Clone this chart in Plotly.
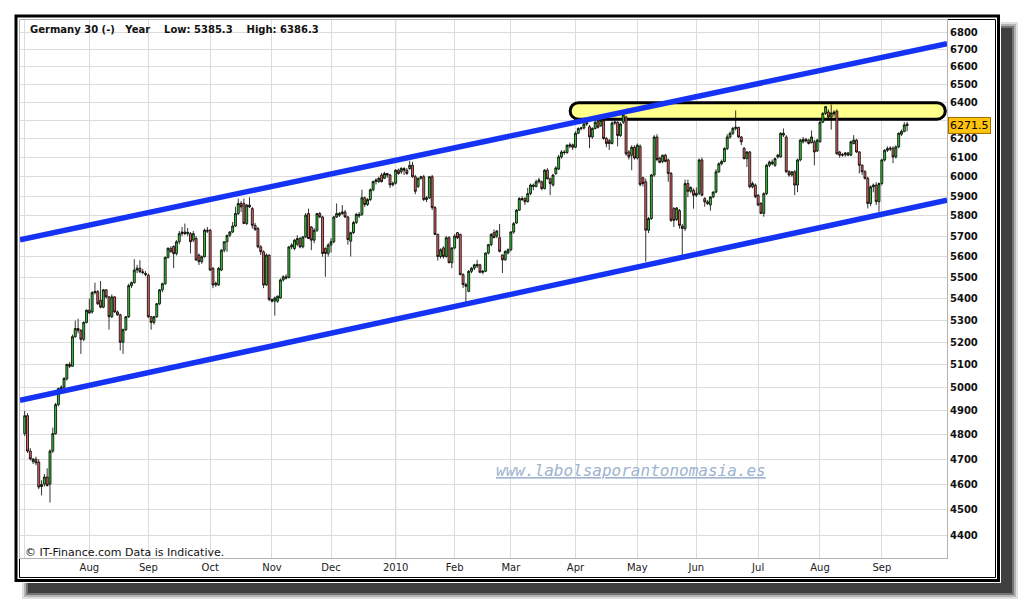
import math
import pandas as pd
import plotly.graph_objects as go

# Germany 30 daily candles, weekdays from 1 Jul 2009 to 14 Sep 2010 (one row per month)
opens = [
    4805, 4880, 4733, 4690, 4700, 4688, 4590, 4600, 4628, 4600, 4733, 4805, 4927, 4996, 5002, 5038, 5101, 5093, 5225, 5262, 5253, 5213, 5290,
    5346, 5338, 5428, 5433, 5392, 5360, 5441, 5408, 5316, 5408, 5338, 5325, 5200, 5257, 5316, 5461, 5475, 5535, 5544, 5527, 5519,
    5510, 5316, 5290, 5316, 5376, 5441, 5470, 5596, 5640, 5649, 5614, 5672, 5712, 5720, 5712, 5712, 5680, 5688, 5607, 5575, 5599, 5729,
    5729, 5543, 5464, 5464, 5535, 5631, 5672, 5704, 5720, 5750, 5812, 5863, 5863, 5762, 5855, 5837, 5753, 5737, 5647, 5623, 5464, 5607,
    5396, 5388, 5388, 5403, 5488, 5503, 5500, 5647, 5639, 5660, 5688, 5647, 5696, 5812, 5745, 5680, 5729, 5812, 5795, 5639, 5615,
    5656, 5672, 5795, 5804, 5812, 5820, 5795, 5675, 5717, 5767, 5800, 5808, 5892, 5858, 5883, 5933, 5975, 5975, 6009, 5992, 6017, 6009, 5958,
    5967, 6034, 6026, 6043, 6034, 6043, 6060, 6000, 5950, 5992, 6000, 5883, 5892, 6000, 5842, 5708, 5600, 5642, 5600, 5692, 5570,
    5642, 5717, 5708, 5513, 5466, 5434, 5529, 5544, 5555, 5560, 5524, 5529, 5617, 5658, 5717, 5700, 5692, 5608, 5584, 5617,
    5633, 5720, 5765, 5829, 5888, 5888, 5872, 5913, 5957, 5950, 5974, 5974, 5939, 6034, 5990, 5957, 6017, 6040, 6104, 6130, 6127, 6160, 6168,
    6155, 6230, 6256, 6258, 6280, 6265, 6210, 6256, 6293, 6270, 6298, 6202, 6190, 6175, 6285, 6290, 6218, 6290, 6318, 6130, 6113, 6155,
    6098, 6160, 5995, 5974, 5729, 5787, 6009, 6210, 6098, 6080, 6113, 6088, 6017, 5837, 5782, 5827, 5750, 5737, 5965, 5925, 5930,
    5905, 5915, 6088, 5888, 5871, 5855, 5896, 5921, 6026, 6068, 6080, 6148, 6210, 6230, 6256, 6262, 6210, 6150, 6095, 6130, 5948, 5957,
    5905, 5863, 5813, 5913, 6060, 6077, 6060, 6104, 6104, 6220, 6210, 6026, 6009, 6026, 5957, 6088, 6184, 6197, 6193, 6180, 6184, 6135,
    6184, 6290, 6338, 6346, 6318, 6335, 6350, 6130, 6113, 6115, 6125, 6113, 6175, 6193, 6130, 6060, 6026, 5992, 5863, 5948, 5957, 5872,
    5965, 6088, 6139, 6145, 6150, 6104, 6157, 6225, 6240, 6280,
]
highs = [
    4900, 4890, 4745, 4705, 4710, 4700, 4615, 4640, 4663, 4740, 4830, 4935, 5000, 5010, 5045, 5105, 5112, 5235, 5298, 5307, 5260, 5295, 5350,
    5400, 5435, 5475, 5440, 5483, 5445, 5445, 5412, 5420, 5412, 5345, 5330, 5262, 5320, 5470, 5480, 5587, 5560, 5582, 5540, 5530,
    5518, 5320, 5320, 5380, 5445, 5475, 5600, 5645, 5650, 5655, 5680, 5725, 5745, 5762, 5740, 5720, 5725, 5700, 5615, 5605, 5737, 5745,
    5735, 5550, 5480, 5550, 5635, 5675, 5705, 5725, 5770, 5846, 5888, 5875, 5888, 5860, 5895, 5845, 5765, 5745, 5656, 5630, 5615, 5610,
    5400, 5410, 5415, 5495, 5510, 5515, 5650, 5665, 5685, 5704, 5695, 5700, 5815, 5837, 5750, 5740, 5815, 5820, 5800, 5645, 5665,
    5690, 5800, 5863, 5820, 5855, 5830, 5800, 5722, 5775, 5815, 5820, 5933, 5898, 5890, 5940, 5980, 5992, 6000, 6020, 6026, 6020, 6015, 5975,
    6040, 6043, 6050, 6050, 6045, 6083, 6078, 6010, 5995, 6005, 6010, 5900, 6005, 6010, 5850, 5712, 5640, 5650, 5700, 5700, 5645,
    5710, 5720, 5712, 5520, 5475, 5535, 5550, 5565, 5584, 5565, 5535, 5620, 5660, 5715, 5733, 5730, 5760, 5610, 5630, 5640,
    5725, 5770, 5835, 5895, 5900, 5895, 5943, 5965, 5965, 5985, 5995, 5980, 6040, 6045, 5995, 6015, 6055, 6115, 6140, 6140, 6170, 6180, 6175,
    6240, 6262, 6265, 6290, 6300, 6275, 6262, 6300, 6300, 6305, 6310, 6210, 6200, 6295, 6300, 6295, 6290, 6342, 6325, 6140, 6165, 6165,
    6175, 6170, 6000, 5990, 5795, 6015, 6220, 6225, 6105, 6115, 6120, 6095, 6025, 5845, 5845, 5835, 5760, 5985, 5985, 5950, 5940,
    5945, 6095, 6100, 5895, 5880, 5900, 5925, 6040, 6075, 6090, 6155, 6225, 6240, 6265, 6354, 6265, 6215, 6155, 6135, 6135, 5975, 5965,
    5910, 5870, 5920, 6068, 6085, 6090, 6100, 6120, 6235, 6256, 6220, 6035, 6030, 6035, 6095, 6200, 6210, 6205, 6200, 6245, 6195, 6200,
    6295, 6345, 6378, 6360, 6386.3, 6355, 6360, 6135, 6125, 6130, 6130, 6190, 6220, 6200, 6135, 6065, 6035, 6000, 5955, 5965, 5972, 5970,
    6095, 6145, 6160, 6160, 6160, 6165, 6235, 6250, 6290, 6292,
]
lows = [
    4795, 4725, 4695, 4680, 4675, 4580, 4555, 4590, 4590, 4527, 4725, 4800, 4920, 4985, 4990, 5030, 5085, 5090, 5220, 5240, 5148, 5205, 5285,
    5330, 5330, 5420, 5370, 5355, 5355, 5400, 5257, 5310, 5335, 5320, 5163, 5148, 5250, 5310, 5450, 5470, 5520, 5520, 5515, 5505,
    5310, 5257, 5280, 5310, 5370, 5430, 5465, 5590, 5620, 5544, 5605, 5660, 5700, 5705, 5700, 5615, 5670, 5580, 5559, 5565, 5595, 5715,
    5530, 5449, 5455, 5460, 5530, 5620, 5623, 5695, 5715, 5745, 5805, 5820, 5760, 5755, 5840, 5737, 5725, 5640, 5607, 5449, 5460, 5388,
    5381, 5321, 5380, 5400, 5480, 5490, 5495, 5635, 5630, 5650, 5640, 5640, 5690, 5685, 5631, 5665, 5720, 5790, 5599, 5503, 5600,
    5620, 5665, 5790, 5795, 5805, 5790, 5658, 5600, 5710, 5760, 5790, 5800, 5845, 5850, 5875, 5925, 5960, 5968, 5970, 5988, 5995, 5942, 5950,
    5960, 6010, 6015, 6009, 6010, 6035, 5995, 5910, 5942, 5985, 5875, 5870, 5885, 5830, 5705, 5580, 5590, 5590, 5595, 5568, 5544,
    5635, 5685, 5510, 5450, 5385.3, 5430, 5520, 5535, 5545, 5520, 5515, 5525, 5610, 5650, 5690, 5690, 5620, 5521, 5580, 5610,
    5625, 5712, 5760, 5825, 5875, 5855, 5868, 5905, 5930, 5945, 5965, 5930, 5935, 5985, 5905, 5950, 6010, 6035, 6095, 6115, 6120, 6150, 6140,
    6150, 6225, 6245, 6250, 6270, 6150, 6200, 6250, 6255, 6265, 6195, 6155, 6140, 6170, 6275, 6160, 6210, 6280, 6110, 6090, 6034, 6090,
    6090, 5950, 5950, 5575, 5715, 5780, 6000, 6080, 6070, 6070, 6075, 5974, 5770, 5745, 5775, 5737, 5607, 5725, 5895, 5915, 5837,
    5895, 5905, 5900, 5846, 5855, 5827, 5890, 5915, 6020, 6060, 6075, 6140, 6200, 6220, 6245, 6205, 6166, 6090, 6051, 5940, 5940, 5890,
    5850, 5810, 5796, 5905, 6050, 6060, 6051, 6095, 6100, 6210, 6020, 6000, 6000, 5905, 5921, 6080, 6175, 6180, 6170, 6175, 6060, 6130,
    6180, 6285, 6330, 6310, 6250, 6320, 6115, 6100, 6105, 6105, 6108, 6108, 6170, 6125, 6017, 6010, 5985, 5838, 5850, 5920, 5855, 5821,
    5955, 6080, 6130, 6135, 6071, 6095, 6150, 6215, 6235, 6240,
]
closes = [
    4880, 4733, 4701, 4700, 4685, 4588, 4598, 4628, 4594, 4733, 4805, 4927, 4996, 5002, 5040, 5101, 5093, 5225, 5262, 5253, 5213, 5290, 5346,
    5333, 5428, 5433, 5376, 5360, 5441, 5408, 5316, 5408, 5338, 5325, 5200, 5257, 5316, 5461, 5475, 5535, 5544, 5527, 5523, 5514,
    5316, 5290, 5316, 5376, 5441, 5470, 5596, 5640, 5623, 5614, 5672, 5712, 5720, 5712, 5718, 5672, 5712, 5583, 5575, 5599, 5729, 5725,
    5535, 5464, 5472, 5543, 5631, 5672, 5704, 5720, 5750, 5812, 5863, 5846, 5762, 5855, 5846, 5753, 5733, 5647, 5623, 5464, 5607, 5396,
    5388, 5403, 5411, 5488, 5503, 5496, 5647, 5656, 5680, 5688, 5647, 5696, 5804, 5688, 5680, 5729, 5812, 5795, 5615, 5615, 5656,
    5672, 5795, 5812, 5812, 5820, 5795, 5683, 5717, 5767, 5808, 5808, 5892, 5858, 5883, 5933, 5975, 5983, 5992, 5975, 6017, 6009, 5958, 5967,
    6034, 6017, 6043, 6034, 6017, 6060, 6000, 5925, 5992, 6000, 5883, 5892, 6000, 5842, 5708, 5600, 5633, 5600, 5692, 5570, 5642,
    5700, 5692, 5513, 5466, 5458, 5529, 5544, 5560, 5562, 5524, 5529, 5617, 5658, 5708, 5692, 5725, 5625, 5584, 5625, 5633,
    5720, 5762, 5829, 5888, 5883, 5872, 5913, 5957, 5950, 5974, 5983, 5939, 6034, 5990, 5965, 6009, 6046, 6104, 6130, 6127, 6166, 6168, 6155,
    6230, 6256, 6258, 6280, 6287, 6210, 6256, 6290, 6262, 6300, 6202, 6175, 6175, 6285, 6290, 6218, 6280, 6330, 6120, 6104, 6155, 6098,
    6166, 5960, 5965, 5729, 5787, 6009, 6210, 6090, 6075, 6113, 6080, 6017, 5778, 5778, 5840, 5753, 5737, 5965, 5925, 5945, 5905,
    5915, 6088, 5905, 5871, 5863, 5896, 5921, 6026, 6068, 6080, 6148, 6210, 6230, 6256, 6262, 6210, 6184, 6095, 6130, 5948, 5965, 5897,
    5855, 5813, 5913, 6060, 6077, 6068, 6095, 6113, 6230, 6230, 6026, 6009, 6026, 5957, 6088, 6193, 6197, 6190, 6175, 6210, 6130, 6193,
    6290, 6338, 6375, 6318, 6340, 6345, 6120, 6113, 6115, 6125, 6113, 6184, 6193, 6130, 6060, 6026, 5992, 5863, 5948, 5957, 5872, 5965,
    6088, 6139, 6148, 6150, 6104, 6157, 6230, 6240, 6275, 6271.5,
]

month_labels = ["", "Aug", "Sep", "Oct", "Nov", "Dec", "2010", "Feb", "Mar", "Apr", "May", "Jun", "Jul", "Aug", "Sep"]
price_ticks = [4400, 4500, 4600, 4700, 4800, 4900, 5000, 5100, 5200, 5300, 5400, 5500, 5600,
               5700, 5800, 5900, 6000, 6100, 6200, 6300, 6400, 6500, 6600, 6700, 6800]

# hand drawn channel (price at left and right edge of the chart) and resistance band
upper_channel = [5682, 6732]
lower_channel = [4945, 5880]
resistance_band = [6306, 6397]
resistance_start = 194.1

dates = pd.bdate_range("2009-07-01", periods=len(closes))
x = list(range(len(closes)))
month_starts = [i for i in x if i == 0 or dates[i].month != dates[i - 1].month]

x_range = [-1.67, 328.2]
y_range = [math.log10(4315), math.log10(6871)]

FONT = "DejaVu Sans"
W, H = 1020, 600
L, R, T, B = 20, 73, 20, 42


def px(v):
    return (v - L) / (W - L - R)


def py(v):
    return (H - B - v) / (H - T - B)


fig = go.Figure()

fig.add_trace(go.Candlestick(
    x=x, open=opens, high=highs, low=lows, close=closes,
    increasing=dict(fillcolor="#33c433", line=dict(color="#000000", width=0.8)),
    decreasing=dict(fillcolor="#e06464", line=dict(color="#000000", width=0.8)),
    whiskerwidth=0, hoverinfo="skip", showlegend=False
))

for chan in (upper_channel, lower_channel):
    fig.add_trace(go.Scatter(
        x=x_range, y=chan, mode="lines",
        line=dict(color="#1433f5", width=5.5),
        hoverinfo="skip", showlegend=False
    ))

# resistance "pill"
ly0, ly1 = math.log10(resistance_band[0]), math.log10(resistance_band[1])


def yy(t):
    return 10 ** (ly0 + t * (ly1 - ly0))


xl, xr, r, k = resistance_start, x_range[1] - 0.6, 2.94, 0.5523
pill = (
    f"M {xl + r},{yy(1)} L {xr - r},{yy(1)} "
    f"C {xr - r + k * r},{yy(1)} {xr},{yy(0.5 + k / 2)} {xr},{yy(0.5)} "
    f"C {xr},{yy(0.5 - k / 2)} {xr - r + k * r},{yy(0)} {xr - r},{yy(0)} "
    f"L {xl + r},{yy(0)} "
    f"C {xl + r - k * r},{yy(0)} {xl},{yy(0.5 - k / 2)} {xl},{yy(0.5)} "
    f"C {xl},{yy(0.5 + k / 2)} {xl + r - k * r},{yy(1)} {xl + r},{yy(1)} Z"
)

shapes = []
# drop shadow of the frame
for inset, col in [(0, "rgba(0,0,0,0.12)"), (2, "rgba(0,0,0,0.2)"), (4, "rgba(0,0,0,0.35)"), (6, "rgba(50,50,50,0.8)")]:
    shapes.append(dict(type="rect", xref="paper", yref="paper", layer="below",
                       x0=px(22 + inset), x1=px(1018 - inset), y0=py(22 + inset), y1=py(599 - inset),
                       fillcolor=col, line=dict(width=0)))
shapes.append(dict(type="rect", xref="paper", yref="paper", layer="below",
                   x0=px(13), x1=px(1001), y0=py(13), y1=py(583),
                   fillcolor="#ffffff", line=dict(width=0)))
shapes.append(dict(type="rect", xref="paper", yref="paper", layer="below",
                   x0=px(16), x1=px(998.5), y0=py(16), y1=py(580.5),
                   line=dict(color="#000000", width=3)))
shapes.append(dict(type="rect", xref="paper", yref="paper", layer="below",
                   x0=px(19.5), x1=px(995.5), y0=py(19.5), y1=py(577.5),
                   line=dict(color="#000000", width=1)))
# year separator
jan = month_starts[month_labels.index("2010")]
shapes.append(dict(type="line", xref="x", yref="paper", layer="between",
                   x0=jan, x1=jan, y0=0, y1=1, line=dict(color="#999999", width=1)))
shapes.append(dict(type="path", xref="x", yref="y", layer="between", path=pill,
                   fillcolor="#ffff8c", line=dict(color="#000000", width=3)))

annotations = [
    dict(xref="paper", yref="paper", x=px(28), y=py(29.7), xanchor="left", yanchor="middle",
         text="Germany 30 (-)\u00a0\u00a0 Year\u00a0\u00a0\u00a0 Low: 5385.3\u00a0\u00a0\u00a0 High: 6386.3",
         showarrow=False, font=dict(family=FONT, size=10, color="#111111", weight="bold")),
    dict(xref="paper", yref="paper", x=px(23), y=py(552.3), xanchor="left", yanchor="middle",
         text="\u00a9 IT-Finance.com Data is Indicative.", showarrow=False,
         font=dict(family=FONT, size=11, color="#111111")),
    dict(xref="paper", yref="paper", x=px(630.5), y=py(470.7), xanchor="center", yanchor="middle",
         text="www.labolsaporantonomasia.es", showarrow=False,
         font=dict(family="DejaVu Sans Mono", size=16, color="#9db3cf", style="italic", lineposition="under")),
    dict(xref="paper", yref="y", x=px(948.5), y=math.log10(closes[-1]), xanchor="left", yanchor="middle",
         text=f"{closes[-1]}", showarrow=False, bgcolor="#ffc20e", bordercolor="#a07000",
         borderwidth=1, borderpad=1, font=dict(family=FONT, size=11, color="#000000")),
]

# the last-price box hides the 6300 label, as in the original
tick_text = ["" if v == 6300 else str(v) for v in price_ticks]

fig.update_layout(
    width=W, height=H,
    margin=dict(l=L, r=R, t=T, b=B),
    paper_bgcolor="#ffffff", plot_bgcolor="#ffffff",
    showlegend=False, hovermode=False, boxgap=0,
    shapes=shapes, annotations=annotations,
    xaxis=dict(
        range=x_range, tickvals=month_starts, ticktext=month_labels,
        showgrid=True, gridcolor="#dcdcdc", gridwidth=1, zeroline=False,
        showline=True, linecolor="#b4b4b4", linewidth=1, mirror=True,
        ticks="", tickfont=dict(family=FONT, size=10, color="#222222"),
        rangeslider=dict(visible=False),
    ),
    yaxis=dict(
        type="log", range=y_range, side="right",
        tickvals=price_ticks, ticktext=tick_text,
        showgrid=True, gridcolor="#dcdcdc", gridwidth=1, zeroline=False,
        showline=True, linecolor="#b4b4b4", linewidth=1, mirror=True,
        ticks="", tickfont=dict(family=FONT, size=10, color="#111111", weight="bold"),
    ),
)

fig.write_html(
    "out.html",
    config={"displayModeBar": False, "staticPlot": True},
    post_script="document.body.style.margin='0px';document.body.style.overflow='hidden';",
)
